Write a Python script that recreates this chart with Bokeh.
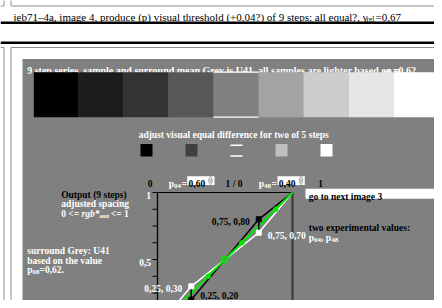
from bokeh.plotting import figure
from bokeh.embed import file_html
from bokeh.resources import INLINE
from bokeh.core.properties import value

# ---------------- data ----------------
steps9_grey = [0, 28, 51, 87, 128, 163, 204, 230, 255]      # 9 step series (0..255)
steps5_grey = [0, 64, 128, 192, 255]                          # 5 steps to adjust
tick_values = [0.25, 0.375, 0.5, 0.625, 0.75, 0.875, 1.0]
tick_label_values = [0.5, 1.0]
tick_label_texts = ["0,5", "1"]
x_in = [0.0, 0.25, 0.5, 0.75, 1.0]
y_black = [0.0, 0.20, 0.50, 0.80, 1.0]
y_white = [0.0, 0.30, 0.50, 0.70, 1.0]
y_green = [0.0, 0.25, 0.50, 0.75, 1.0]
green_dots_x = [0.125, 0.375, 0.625, 0.875]
green_dots_y = [0.125, 0.375, 0.625, 0.875]
p04 = 0.60
p48 = 0.40

# ---------------- layout helpers (page pixels -> chart units) ----------------
X0, X1 = 157.0, 292.0      # page x of chart value 0 and 1
Y0, Y1 = 326.0, 192.0      # page y of chart value 0 and 1

def ux(px):
    return (px - X0) / (X1 - X0)

def uy(py):
    return (Y0 - py) / (Y0 - Y1)

def fmt(v):
    return f"{v:.2f}".replace(".", ",")

p = figure(width=434, height=300, output_backend="svg", toolbar_location=None,
           x_range=(ux(0), ux(434)), y_range=(uy(300), uy(0)),
           x_axis_location=None, y_axis_location=None, min_border=0)
p.grid.visible = False
p.outline_line_color = None
p.background_fill_color = "white"
p.border_fill_color = "white"

FONT = value("Liberation Serif")

def txt(px, py, s, color="black", size="9.5px", style="bold", align="left"):
    p.text(x=[ux(px)], y=[uy(py)], text=[s], text_font=FONT, text_font_size=size,
           text_font_style=style, text_color=color, text_align=align,
           text_baseline="alphabetic")

def rect_px(l, t, r, b, color, line=None):
    p.quad(left=[ux(l)], right=[ux(r)], top=[uy(t)], bottom=[uy(b)],
           fill_color=color, line_color=line)

def hline(x0, x1, y, color, w=1):
    p.segment(x0=[ux(x0)], x1=[ux(x1)], y0=[uy(y)], y1=[uy(y)], line_color=color, line_width=w)

def vline(x, y0, y1, color, w=1):
    p.segment(x0=[ux(x)], x1=[ux(x)], y0=[uy(y0)], y1=[uy(y1)], line_color=color, line_width=w)

# ---------------- header ----------------
BOX = "#8c8c8c"
vline(3.5, -2, 5.5, BOX)
hline(0, 3.5, 5.5, BOX)
vline(10.5, -2, 5.5, BOX)
hline(10.5, 442, 5.5, BOX)
txt(13, 16.5, "ieb71\u20134a, image 4, produce (p) visual threshold (+0,04?) of 9 steps; all equal?, \u03b3",
    size="11px", style="normal")
txt(366, 18.7, "rel", size="7.5px", style="normal")
txt(375, 16.5, "=0,67", size="11px", style="normal")
rect_px(0, 21, 442, 23.5, "black")
rect_px(0, 41, 442, 43.5, "black")
hline(0, 3.5, 47, BOX)
vline(3.5, 47, 308, BOX)
hline(10.5, 442, 47, BOX)
vline(10.5, 47, 308, BOX)

# ---------------- grey panel ----------------
rect_px(22, 58.5, 442, 308, "#808080")
txt(26.7, 69.5, "9 step series, sample and surround mean Grey is U41, all samples are lighter based on p",
    color="white", size="10px")
txt(383, 71.5, "08", color="white", size="7px")
txt(418, 69.5, "=0,62.", color="white", size="10px", align="right")

# 9-step swatches
sw_l, sw_w = 33.3, 44.93
for i, g in enumerate(steps9_grey):
    c = "#%02x%02x%02x" % (g, g, g)
    rect_px(sw_l + i * sw_w, 71.7, sw_l + (i + 1) * sw_w, 116.7, c)
mid = len(steps9_grey) // 2
hline(sw_l + mid * sw_w, sw_l + (mid + 1) * sw_w, 71.7, "white", 1.2)
hline(sw_l + mid * sw_w, sw_l + (mid + 1) * sw_w, 116.7, "white", 1.2)

txt(233.3, 134.5, "adjust visual equal difference for two of 5 steps", color="white", align="center")

# 5 small squares
for i, g in enumerate(steps5_grey):
    c = "#%02x%02x%02x" % (g, g, g)
    l = 140 + 45 * i
    rect_px(l, 143.5, l + 12, 156, c)
    if i == 2:
        hline(l, l + 12, 144.8, "white", 1.5)
        hline(l, l + 12, 155.5, "white", 1.5)

# label row
row_b = 183
txt(147.3, row_b, "0")
txt(168.3, row_b, "p", color="white")
txt(173.6, row_b + 2, "04", color="white", size="7px")
txt(181, row_b, "=", color="white")
rect_px(186.7, 175.7, 214, 184.5, "white")
txt(188, row_b, fmt(p04))
txt(225, row_b, "1 / 0")
txt(258.3, row_b, "p", color="white")
txt(263.6, row_b + 2, "48", color="white", size="7px")
txt(271, row_b, "=", color="white")
rect_px(277, 175.7, 304.3, 184.5, "white")
txt(278.3, row_b, fmt(p48))
txt(317.7, row_b, "1")
for sx in (210, 300.5):
    p.scatter(x=[ux(sx)], y=[uy(178.2)], marker="triangle", size=4, fill_color="white",
              line_color="#8a8a8a", line_width=0.8)
    p.scatter(x=[ux(sx)], y=[uy(181.8)], marker="inverted_triangle", size=4, fill_color="white",
              line_color="#8a8a8a", line_width=0.8)

# left text block
txt(60.7, 194.3, "Output (9 steps)")
txt(60.7, 203.8, "adjusted spacing", color="white")
txt(60.7, 213.3, "0 <= ", color="white")
txt(81, 213.3, "rgb*", color="white", style="bold italic")
txt(99, 215.3, "out", color="white", size="7px")
txt(130.7, 213.3, " <= 1", color="white", align="right")

txt(26.7, 250.5, "surround Grey: U41", color="white")
txt(26.7, 260.2, "based on the value", color="white")
txt(26.7, 269.9, "p", color="white")
txt(32, 271.9, "08", color="white", size="7px")
txt(39, 269.9, "=0,62.", color="white")

# right text block
rect_px(305, 188.3, 442, 198.3, "white")
txt(308.3, 196.2, "go to next image 3")
txt(308.3, 227.5, "two experimental values:")
txt(308.3, 237.5, "p", color="white")
txt(313.6, 239.5, "04", color="white", size="7px")
txt(320.6, 237.5, ", p", color="white")
txt(330.7, 239.5, "48", color="white", size="7px")

# ---------------- chart (chart units) ----------------
p.segment(x0=[0], x1=[1], y0=[1], y1=[1], line_color="black", line_width=1.2)
p.segment(x0=[0], x1=[0], y0=[1], y1=[uy(308)], line_color="black", line_width=1.3)
p.segment(x0=[1], x1=[1], y0=[1], y1=[uy(308)], line_color="#3c3c3c", line_width=2.2)
tick_len = 5 / (X1 - X0)
p.segment(x0=[-tick_len] * len(tick_values), x1=[0] * len(tick_values),
          y0=tick_values, y1=tick_values, line_color="black", line_width=1.2)
p.text(x=[-tick_len - 1.5 / (X1 - X0)] * len(tick_label_values),
       y=[v - 2.5 / (Y0 - Y1) for v in tick_label_values], text=tick_label_texts,
       text_font=FONT, text_font_size="9.5px", text_font_style="bold", text_color="white",
       text_align="right", text_baseline="alphabetic")

p.line(x_in, y_white, line_color="white", line_width=1.5)
p.line(x_in, y_black, line_color="black", line_width=1.5)
p.line(x_in, y_green, line_color="#00e600", line_width=2)
p.scatter(green_dots_x, green_dots_y, size=4.5, fill_color="#00e600", line_color="#00e600")
p.scatter([0.5], [0.5], size=6, fill_color=None, line_color="#00e600", line_width=1.3)

# connectors between the two experimental points
for k in (1, 3):
    p.segment(x0=[x_in[k]], x1=[x_in[k]], y0=[y_black[k]], y1=[y_white[k]],
              line_color="black", line_width=1.5)
p.scatter([x_in[1], x_in[3]], [y_black[1], y_black[3]], marker="square", size=5,
          fill_color="black", line_color="black")
p.scatter([x_in[1], x_in[3]], [y_white[1], y_white[3]], marker="square", size=5,
          fill_color="white", line_color="white")

dx = 9 / (X1 - X0)
dy = 3 / (Y0 - Y1)
lab = dict(text_font=FONT, text_font_size="9.5px", text_font_style="bold", text_baseline="alphabetic")
p.text(x=[x_in[3] - dx], y=[y_black[3] - dy], text=[f"{fmt(x_in[3])}, {fmt(y_black[3])}"],
       text_color="black", text_align="right", **lab)
p.text(x=[x_in[3] + dx], y=[y_white[3] - dy], text=[f"{fmt(x_in[3])}, {fmt(y_white[3])}"],
       text_color="white", text_align="left", **lab)
p.text(x=[x_in[1] - dx], y=[y_white[1] - dy], text=[f"{fmt(x_in[1])}, {fmt(y_white[1])}"],
       text_color="white", text_align="right", **lab)
# lowest label nudged up so it stays fully inside the 300px-high canvas
p.text(x=[x_in[1] + dx], y=[y_black[1] + 3.5 / (Y0 - Y1)], text=[f"{fmt(x_in[1])}, {fmt(y_black[1])}"],
       text_color="black", text_align="left", **lab)

open("out.html", "w").write(file_html(p, INLINE))
